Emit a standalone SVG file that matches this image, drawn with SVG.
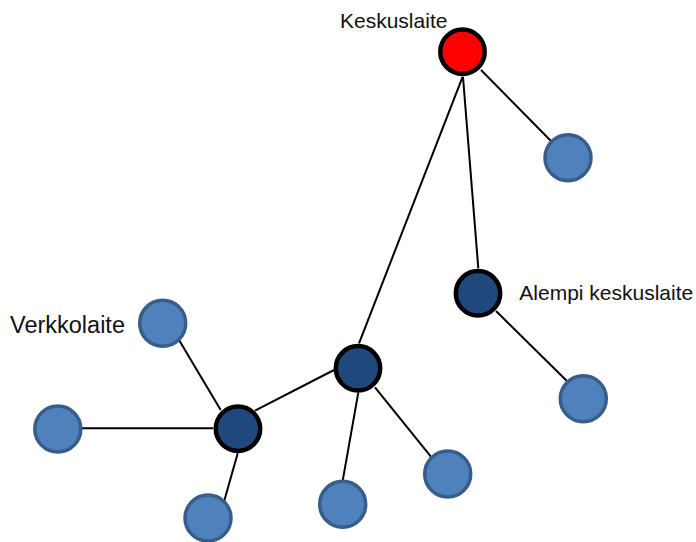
<svg xmlns="http://www.w3.org/2000/svg" width="696" height="542" viewBox="0 0 696 542">
<style>
.lbl{font-family:"Liberation Sans",Arial,sans-serif;font-size:21px;fill:#111}
.edge{stroke:#000;stroke-width:2;fill:none}
.leaf{fill:#4F81BD;stroke:#385D8A;stroke-width:3.5}
.hub{fill:#1F497D;stroke:#000;stroke-width:4.5}
.root{fill:#FF0000;stroke:#000;stroke-width:4.5}
</style>
<rect width="696" height="542" fill="#fff"/>
<g id="connectors">
<line class="edge" x1="462.7" y1="76.7" x2="359" y2="343.3"/>
<line class="edge" x1="463" y1="77" x2="478.3" y2="268.3"/>
<line class="edge" x1="481" y1="70" x2="551.7" y2="141.7"/>
<line class="edge" x1="496" y1="311" x2="566.7" y2="380.7"/>
<line class="edge" x1="334" y1="370" x2="255" y2="410.7"/>
<line class="edge" x1="358.3" y1="392.7" x2="342.7" y2="480.7"/>
<line class="edge" x1="375" y1="387.3" x2="431.7" y2="457.7"/>
<line class="edge" x1="179" y1="340" x2="220.7" y2="410"/>
<line class="edge" x1="81.7" y1="428.3" x2="213.3" y2="428.3"/>
<line class="edge" x1="237.7" y1="453.3" x2="224" y2="501.7"/>
</g>
<g id="keskuslaite"><circle class="root" cx="462.5" cy="51.7" r="22.2"/><text class="lbl" x="340" y="28.3">Keskuslaite</text></g>
<g id="leaf-tr"><circle class="leaf" cx="568" cy="157.7" r="23"/></g>
<g id="alempi"><circle class="hub" cx="478" cy="293.3" r="22.2"/><text class="lbl" x="519.3" y="300">Alempi keskuslaite</text></g>
<g id="leaf-alempi"><circle class="leaf" cx="583.3" cy="398.7" r="23"/></g>
<g id="center"><circle class="hub" cx="358" cy="368.3" r="22.2"/></g>
<g id="leaf-c1"><circle class="leaf" cx="342.7" cy="504.3" r="23"/></g>
<g id="leaf-c2"><circle class="leaf" cx="447.7" cy="474" r="23"/></g>
<g id="left-hub"><circle class="hub" cx="238" cy="428.7" r="22.2"/></g>
<g id="verkkolaite"><circle class="leaf" cx="162.7" cy="323.3" r="23"/><text class="lbl" x="10" y="332.7" style="font-size:23.5px">Verkkolaite</text></g>
<g id="leaf-l"><circle class="leaf" cx="57.8" cy="429" r="23"/></g>
<g id="leaf-b"><circle class="leaf" cx="208" cy="518" r="23"/></g>
</svg>
